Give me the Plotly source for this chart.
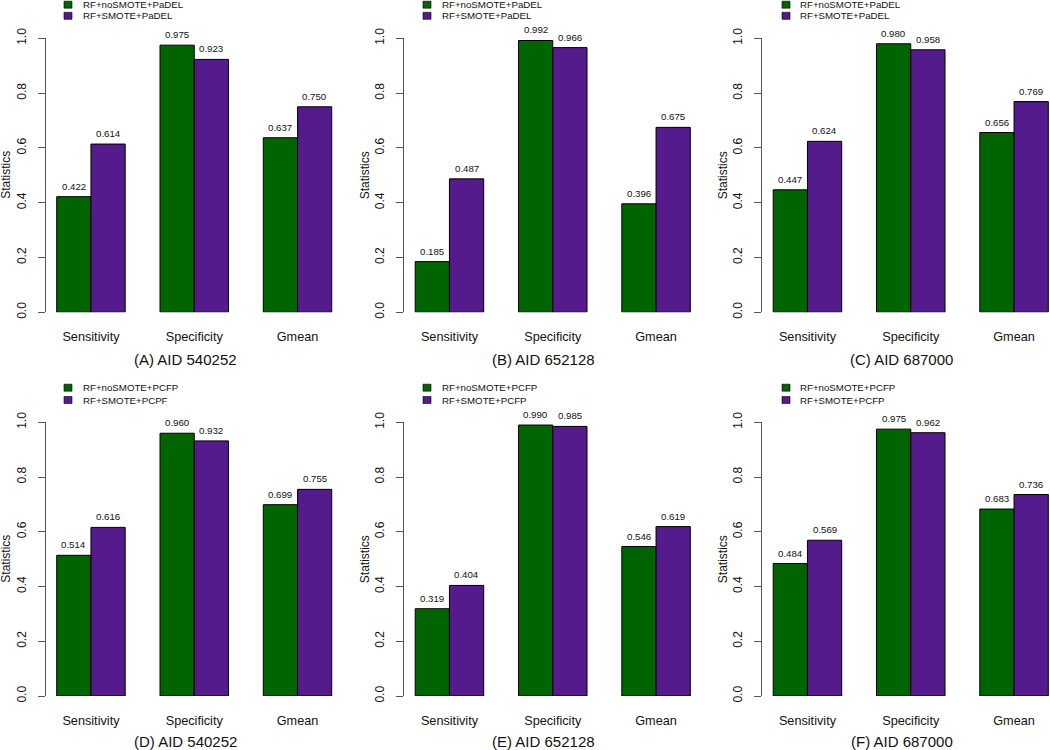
import plotly.graph_objects as go

categories = ["Sensitivity", "Specificity", "Gmean"]
panel_titles = ["(A) AID 540252", "(B) AID 652128", "(C) AID 687000",
                "(D) AID 540252", "(E) AID 652128", "(F) AID 687000"]
names_nosmote = ["RF+noSMOTE+PaDEL", "RF+noSMOTE+PaDEL", "RF+noSMOTE+PaDEL",
                 "RF+noSMOTE+PCFP", "RF+noSMOTE+PCFP", "RF+noSMOTE+PCFP"]
names_smote = ["RF+SMOTE+PaDEL", "RF+SMOTE+PaDEL", "RF+SMOTE+PaDEL",
               "RF+SMOTE+PCPF", "RF+SMOTE+PCFP", "RF+SMOTE+PCFP"]
no_smote = [[0.422, 0.975, 0.637],
            [0.185, 0.992, 0.396],
            [0.447, 0.980, 0.656],
            [0.514, 0.960, 0.699],
            [0.319, 0.990, 0.546],
            [0.484, 0.975, 0.683]]
smote = [[0.614, 0.923, 0.750],
         [0.487, 0.966, 0.675],
         [0.624, 0.958, 0.769],
         [0.616, 0.932, 0.755],
         [0.404, 0.985, 0.619],
         [0.569, 0.962, 0.736]]
y_ticks = [0.0, 0.2, 0.4, 0.6, 0.8, 1.0]
y_label = "Statistics"

GREEN = "#006400"
PURPLE = "#551A8B"
W, H = 1050, 750
FONT = "Liberation Sans, Arial, sans-serif"
axis_px = [45.5, 404, 762]
spacing = 103.3
xr = [-0.44, 2.34]
row_ydom = [[1 - 312.3 / H, 1 - 38.3 / H], [1 - 696 / H, 1 - 422.3 / H]]
row_bottom_px = [312.3, 696]
row_top_px = [38.3, 422.3]
title_y_px = [359, 741]
legend_rows_px = [[4.7, 15.8], [387.7, 400.0]]
sq_x = [64, 423, 782]
txt_x = [81, 439.5, 798]
bar_half = (1 - 0.337) * spacing / 4

fig = go.Figure()
annotations = []
shapes = []
layout = {}

for i in range(6):
    col, row = i % 3, i // 3
    sfx = "" if i == 0 else str(i + 1)
    xa, ya = "x" + sfx, "y" + sfx
    x0 = axis_px[col]
    x1 = x0 + (xr[1] - xr[0]) * spacing
    fig.add_trace(go.Bar(x=categories, y=no_smote[i], name=names_nosmote[i],
                         marker=dict(color=GREEN, line=dict(color="black", width=1)),
                         xaxis=xa, yaxis=ya, showlegend=False))
    fig.add_trace(go.Bar(x=categories, y=smote[i], name=names_smote[i],
                         marker=dict(color=PURPLE, line=dict(color="black", width=1)),
                         xaxis=xa, yaxis=ya, showlegend=False))
    layout["xaxis" + sfx] = dict(
        domain=[x0 / W, min(x1 / W, 1.0)], range=xr, anchor=ya, showline=False,
        showgrid=False, zeroline=False, ticks="", automargin=False,
        tickfont=dict(size=12.7, color="#111", family=FONT),
        ticklabelstandoff=15, fixedrange=True)
    layout["yaxis" + sfx] = dict(
        domain=row_ydom[row], range=[0, 1], anchor=xa, showline=True,
        linecolor="#555", linewidth=1, ticks="outside", ticklen=7,
        tickcolor="#555", tickvals=y_ticks,
        ticktext=[f"{v:.1f}" for v in y_ticks], tickangle=-90,
        showgrid=False, zeroline=False, automargin=False,
        tickfont=dict(size=12, color="#111", family=FONT),
        ticklabelstandoff=7, fixedrange=True)
    # value labels
    for j, cat in enumerate(categories):
        for vals, sh in ((no_smote[i], -bar_half), (smote[i], bar_half)):
            annotations.append(dict(
                x=cat, y=vals[j], xref=xa, yref=ya, xshift=sh, yshift=3,
                text=f"{vals[j]:.3f}", showarrow=False, yanchor="bottom",
                font=dict(size=9.7, color="#111", family=FONT)))
    # panel title
    annotations.append(dict(
        x=(x0 + 1 * spacing - xr[0] * spacing - 9) / W,
        y=1 - title_y_px[row] / H, xref="paper", yref="paper",
        text=panel_titles[i], showarrow=False, xanchor="center", yanchor="middle",
        font=dict(size=15, color="#111", family=FONT)))
    # y label
    annotations.append(dict(
        x=(x0 - 39) / W, y=1 - (row_top_px[row] + row_bottom_px[row]) / 2 / H,
        xref="paper", yref="paper", text=y_label, textangle=-90,
        showarrow=False, xanchor="center", yanchor="middle",
        font=dict(size=12, color="#111", family=FONT)))
    # legend
    for k, (nm, colr) in enumerate(((names_nosmote[i], GREEN), (names_smote[i], PURPLE))):
        cy = legend_rows_px[row][k]
        shapes.append(dict(type="rect", xref="paper", yref="paper",
                           x0=sq_x[col] / W, x1=(sq_x[col] + 8) / W,
                           y0=1 - (cy + 3.5) / H, y1=1 - (cy - 3.5) / H,
                           fillcolor=colr, line=dict(color="black", width=0.6)))
        annotations.append(dict(
            x=txt_x[col] / W, y=1 - cy / H, xref="paper", yref="paper",
            text=nm, showarrow=False, xanchor="left", yanchor="middle",
            font=dict(size=9.7, color="#111", family=FONT)))

fig.update_layout(
    width=W, height=H, margin=dict(l=0, r=0, t=0, b=0),
    paper_bgcolor="white", plot_bgcolor="white",
    barmode="group", bargap=0.337, bargroupgap=0,
    annotations=annotations, shapes=shapes, showlegend=False,
    font=dict(family=FONT, color="#111"),
    **layout)

fig.write_html("out.html", config={"displayModeBar": False},
               post_script="document.body.style.margin='0';document.body.style.overflow='hidden';")
